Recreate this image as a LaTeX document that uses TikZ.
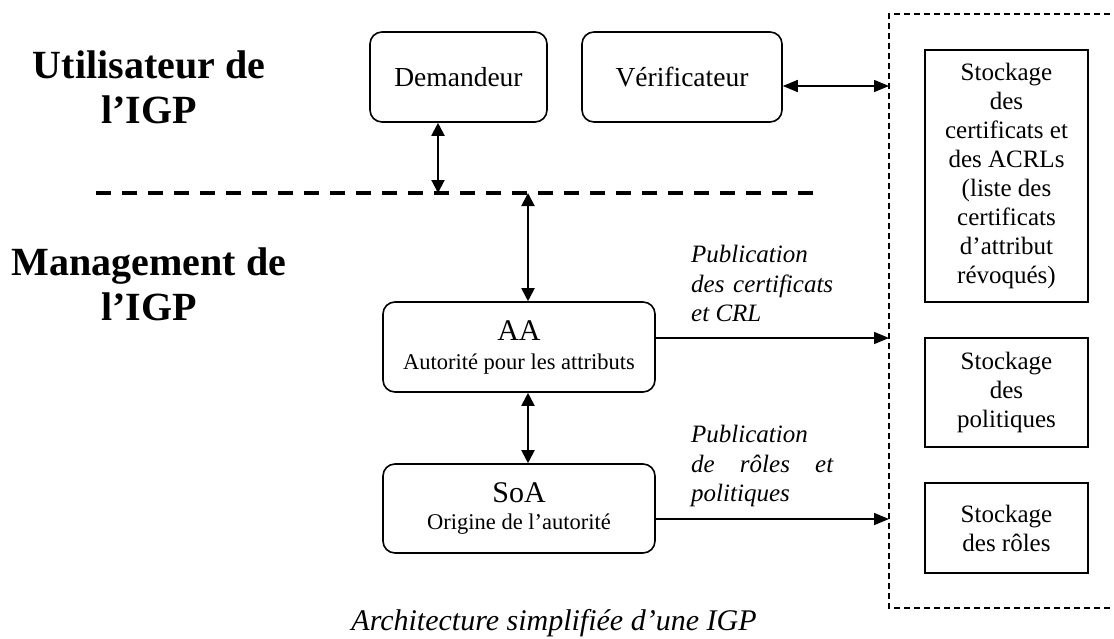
\documentclass[tikz,border=0pt]{standalone}
\usepackage{fontspec}
\setmainfont{Liberation Serif}
\usetikzlibrary{arrows.meta}
\begin{document}
\begin{tikzpicture}[x=1pt,y=-1pt,
  rbox/.style={draw, line width=1.6pt, rounded corners=12pt, inner sep=0pt, align=center},
  sbox/.style={draw, line width=1.6pt, inner sep=0pt, align=center, font=\fontsize{25}{29}\selectfont},
  varr/.style={line width=2pt, {Triangle[length=13pt,width=13pt]}-{Triangle[length=13pt,width=13pt]}},
  harr/.style={line width=1.5pt, -{Triangle[length=15pt,width=12pt]}},
  head/.style={font=\fontsize{40}{45}\selectfont\bfseries, align=center, inner sep=0pt, anchor=north},
  pub/.style={font=\fontsize{25}{29.5}\selectfont\itshape, align=left, inner sep=0pt, anchor=north west},
  sep/.style={line width=4pt, dash pattern=on 15pt off 11pt},
  cont/.style={line width=1.4pt, dash pattern=on 6pt off 4pt}
]
\useasboundingbox (0,0) rectangle (1114,638);

% headings
\node[head] (hu) at (149,50.5) {Utilisateur de\\l’IGP};
\node[head] (hm) at (149,247.5) {Management de\\l’IGP};

% separator line
\coordinate (dl) at (96,193);
\coordinate (dr) at (817,193);
\draw[sep] (dl) -- (dr);
\coordinate (d1) at (438,193);
\coordinate (d2) at (528,193);

% user boxes
\node[rbox, minimum width=177pt, minimum height=90pt, font=\fontsize{27.5}{30}\selectfont] (dem) at (458.5,77) {Demandeur};
\node[rbox, minimum width=200pt, minimum height=90pt, font=\fontsize{27.5}{30}\selectfont] (ver) at (682,77) {Vérificateur};

% management boxes
\node[rbox, minimum width=272pt, minimum height=90pt, font=\fontsize{22.5}{29}\selectfont] (aa) at (519,347)
  {{\fontsize{30}{30}\selectfont AA}\\{Autorité pour les attributs}};
\node[rbox, minimum width=272pt, minimum height=89pt, font=\fontsize{22.5}{27}\selectfont] (soa) at (519,508.5)
  {{\fontsize{30}{30}\selectfont SoA}\\{Origine de l’autorité}};

% storage container (its right side lies beyond the picture)
\coordinate (ctr) at (1120,14);
\coordinate (ctl) at (889,14);
\coordinate (cbl) at (889,608);
\coordinate (cbr) at (1120,608);
\draw[cont] (ctr) -- (ctl) -- (cbl) -- (cbr);
\coordinate (cv) at (889,86);
\coordinate (ca) at (889,338);
\coordinate (cs) at (889,519);

\node[sbox, minimum width=163pt, minimum height=252pt] (st1) at (1006.5,176)
  {Stockage\\des\\certificats et\\des ACRLs\\(liste des\\certificats\\d’attribut\\révoqués)};
\node[sbox, minimum width=163pt, minimum height=109pt] (st2) at (1006.5,392.5)
  {Stockage\\des\\politiques};
\node[sbox, minimum width=163pt, minimum height=90pt] (st3) at (1006.5,528)
  {Stockage\\des rôles};

% arrows
\draw[varr] (d1 |- dem.south) -- (d1);
\draw[varr] (d2) -- (d2 |- aa.north);
\draw[varr] (d2 |- aa.south) -- (d2 |- soa.north);
\draw[line width=1.5pt, {Triangle[length=15pt,width=12pt]}-{Triangle[length=15pt,width=12pt]}] (ver.east |- cv) -- (cv);
\draw[harr] (aa.east |- ca) -- (ca);
\draw[harr] (soa.east |- cs) -- (cs);

% labels
\node[pub] (p1) at (691,245) {Publication\\\makebox[142pt][s]{des certificats}\\et CRL};
\node[pub] (p2) at (691,425) {Publication\\\makebox[142pt][s]{de rôles et}\\politiques};

% caption
\node[font=\fontsize{30}{32}\selectfont\itshape, inner sep=0pt, anchor=base] (cap) at (554,630) {Architecture simplifiée d’une IGP};
\end{tikzpicture}
\end{document}
